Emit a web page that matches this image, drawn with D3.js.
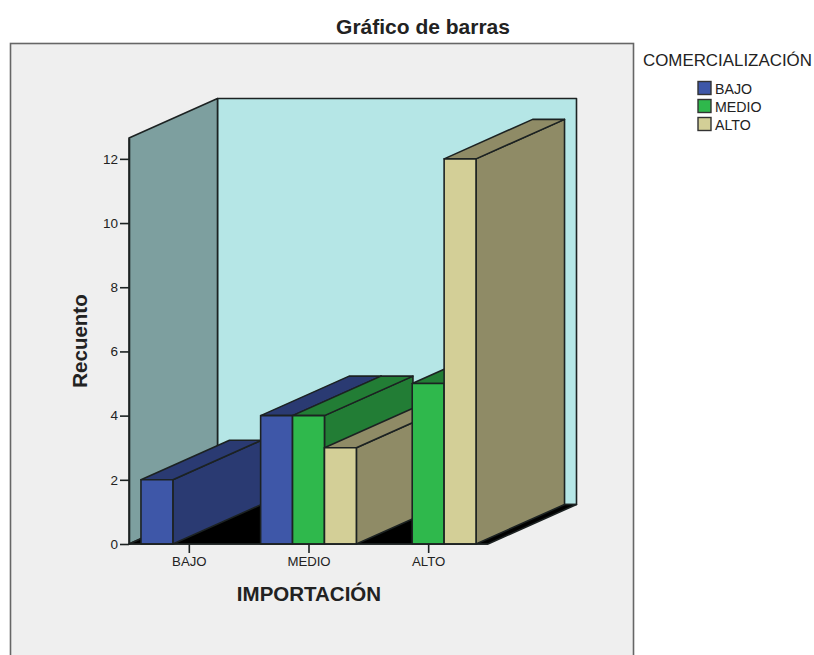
<!DOCTYPE html>
<html>
<head>
<meta charset="utf-8">
<script src="https://cdn.jsdelivr.net/npm/d3@7/dist/d3.min.js"></script>
<style>
  html, body { margin: 0; padding: 0; background: #fff; overflow: hidden; }
  svg { display: block; }
  text { font-family: "Liberation Sans", Arial, sans-serif; fill: #222; }
</style>
</head>
<body>
<svg id="chart" width="814" height="655"></svg>
<script>
// Counts of COMERCIALIZACIÓN levels within each IMPORTACIÓN level
const importacion = ["BAJO", "MEDIO", "ALTO"];
const comercializacion = ["BAJO", "MEDIO", "ALTO"];
const countsBajo = [2, 4, 0];
const countsMedio = [0, 4, 5];
const countsAlto = [0, 3, 12];
const yTicks = [0, 2, 4, 6, 8, 10, 12];
const yTop = 12.65;

const frontColors = ["#3e57a8", "#2fb84c", "#d3cf97"];
const sideColors = ["#2a3a72", "#227d35", "#8f8b66"];
const topColors = ["#2a3a72", "#227d35", "#8f8b66"];
const seriesCounts = [countsBajo, countsMedio, countsAlto];

const ink = "#1c2222";
const svg = d3.select("#chart");

const plot = { left: 129, right: 488, bottom: 544, top: 138 };
const depth = { dx: 88.5, dy: -39.5 };

const y = d3.scaleLinear().domain([0, yTop]).range([plot.bottom, plot.top]);
const xGroup = d3.scaleBand().domain(importacion).range([plot.left, plot.right]).paddingInner(0.2).paddingOuter(0.1);
const xBar = d3.scaleBand().domain(comercializacion).range([0, xGroup.bandwidth()]);

const path = d3.line();
const back = ([px, py]) => [px + depth.dx, py + depth.dy];

function face(points, fill, width = 1.6) {
  svg.append("path")
    .attr("d", path(points) + "Z")
    .attr("fill", fill)
    .attr("stroke", ink)
    .attr("stroke-width", width)
    .attr("stroke-linejoin", "round");
}

// Chart frame, open past the bottom of the page
svg.append("rect")
  .attr("x", 10.5).attr("y", 43.5)
  .attr("width", 623).attr("height", 660)
  .attr("fill", "#efefef")
  .attr("stroke", "#666")
  .attr("stroke-width", 1.6);

// Back wall, side wall and floor of the 3-D box
const fl = [plot.left, y(0)], fr = [plot.right, y(0)];
const tl = [plot.left, y(yTop)], tr = [plot.right, y(yTop)];
face([back(tl), back(tr), back(fr), back(fl)], "#b5e6e6");
face([tl, back(tl), back(fl), fl], "#7d9f9f");
face([fl, back(fl), back(fr), fr], "#000000");

// Bars are painted left to right so each one hides the side of its neighbour
importacion.forEach((group, g) => {
  comercializacion.forEach((level, s) => {
    const value = seriesCounts[s][g];
    if (!value) return;
    const x0 = xGroup(group) + xBar(level);
    const x1 = x0 + xBar.bandwidth();
    const a = [x0, y(value)], b = [x1, y(value)], c = [x1, y(0)], d = [x0, y(0)];
    face([b, back(b), back(c), c], sideColors[s]);
    face([a, back(a), back(b), b], topColors[s]);
    face([a, b, c, d], frontColors[s]);
  });
});

// Axes
const yAxis = svg.append("g")
  .attr("transform", `translate(${plot.left},0)`)
  .call(d3.axisLeft(y).tickValues(yTicks).tickFormat(d3.format("d")).tickSize(9).tickSizeOuter(0).tickPadding(2));
const xAxis = svg.append("g")
  .attr("transform", `translate(0,${plot.bottom})`)
  .call(d3.axisBottom(d3.scalePoint().domain(importacion)
    .range([xGroup(importacion[0]) + xGroup.bandwidth() / 2, xGroup(importacion[2]) + xGroup.bandwidth() / 2]))
    .tickSize(9).tickPadding(4).tickSizeOuter(0));
[yAxis, xAxis].forEach(axis => {
  axis.select(".domain").attr("stroke", ink).attr("stroke-width", 1.6);
  axis.selectAll(".tick line").attr("stroke", ink).attr("stroke-width", 1.6);
  axis.selectAll(".tick text").attr("font-size", 13.5).attr("font-family", '"Liberation Sans", Arial, sans-serif').attr("fill", "#222");
});
xAxis.select(".domain").attr("d", `M${plot.left},0H${plot.right}`);
xAxis.selectAll(".tick text").attr("font-size", 13.2);

// Titles
svg.append("text").attr("x", 423).attr("y", 34).attr("text-anchor", "middle")
  .attr("font-size", 21).attr("font-weight", "bold").text("Gráfico de barras");
svg.append("text").attr("x", 309).attr("y", 601).attr("text-anchor", "middle")
  .attr("font-size", 20.5).attr("font-weight", "bold").text("IMPORTACIÓN");
svg.append("text").attr("transform", "translate(87,341) rotate(-90)").attr("text-anchor", "middle")
  .attr("font-size", 20.5).attr("font-weight", "bold").text("Recuento");

// Legend
svg.append("text").attr("x", 643).attr("y", 66).attr("font-size", 16.9).text("COMERCIALIZACIÓN");
const legendY = d3.scalePoint().domain(comercializacion).range([88, 124]);
comercializacion.forEach((level, s) => {
  svg.append("rect")
    .attr("x", 698).attr("y", legendY(level) - 6.5)
    .attr("width", 13).attr("height", 13)
    .attr("fill", frontColors[s])
    .attr("stroke", "#333").attr("stroke-width", 1.4);
  svg.append("text")
    .attr("x", 715).attr("y", legendY(level) + 5.5)
    .attr("font-size", 14.2).text(level);
});
</script>
</body>
</html>
